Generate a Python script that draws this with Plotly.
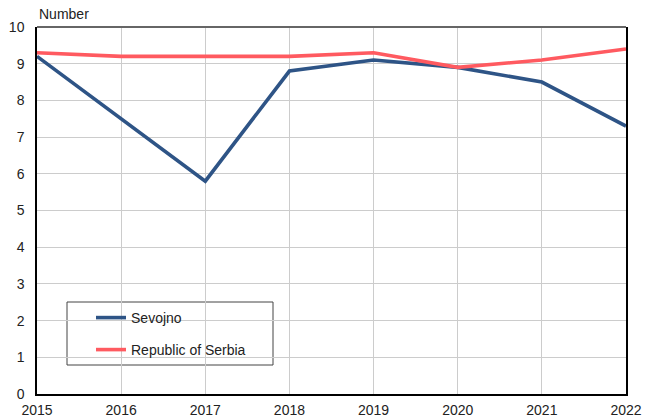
import plotly.graph_objects as go

years = [2015, 2016, 2017, 2018, 2019, 2020, 2021, 2022]
sevojno = [9.2, 7.5, 5.8, 8.8, 9.1, 8.9, 8.5, 7.3]
serbia = [9.3, 9.2, 9.2, 9.2, 9.3, 8.9, 9.1, 9.4]
y_ticks = list(range(0, 11))

FONT = "Arial, Liberation Sans, sans-serif"
TXT = "#222222"

fig = go.Figure()
fig.add_trace(go.Scatter(x=years, y=sevojno, mode="lines", name="Sevojno",
                         line=dict(color="#2E5486", width=3.6), legend="legend"))
fig.add_trace(go.Scatter(x=years, y=serbia, mode="lines", name="Republic of Serbia",
                         line=dict(color="#FF5A60", width=3.6), legend="legend2"))

legend_common = dict(xanchor="left", yanchor="top", bgcolor="rgba(0,0,0,0)",
                     borderwidth=0, font=dict(size=14, color=TXT), itemwidth=30)

fig.update_layout(
    width=647, height=417,
    margin=dict(l=37, r=21, t=27, b=23, autoexpand=False),
    paper_bgcolor="white", plot_bgcolor="white",
    font=dict(family=FONT, size=14, color=TXT),
    showlegend=True,
    legend=dict(x=0.0917, y=0.2507, **legend_common),
    legend2=dict(x=0.0917, y=0.1635, **legend_common),
    xaxis=dict(range=[2015, 2022], tickvals=years, showgrid=True, automargin=False,
               gridcolor="#cccccc", gridwidth=1, showline=True, linecolor="black",
               linewidth=1.5, ticks="", zeroline=False, ticklabelstandoff=2),
    yaxis=dict(range=[0, 10], tickvals=y_ticks, showgrid=True, automargin=False,
               gridcolor="#cccccc", gridwidth=1, showline=True, mirror=True,
               linecolor="black", linewidth=1.5, ticks="", zeroline=False,
               ticklabelstandoff=8),
)

# top frame edge and legend box
fig.add_shape(type="line", xref="paper", yref="paper", x0=0, x1=1, y0=1, y1=1,
              line=dict(color="#666666", width=2))
fig.add_shape(type="rect", xref="paper", yref="paper",
              x0=(67 - 37) / 589, x1=(273 - 37) / 589,
              y0=(394 - 365) / 367, y1=(394 - 302) / 367,
              line=dict(color="#444444", width=1), fillcolor="white", layer="below")

# chart heading, sitting at the very top edge of the page
fig.add_annotation(text="<b>Live births per 1,000 population, Sevojno and Republic of Serbia</b>",
                   xref="paper", yref="paper", x=(60 - 37) / 589, y=1,
                   xanchor="left", yanchor="bottom", yshift=25, showarrow=False,
                   font=dict(size=15, color="#111111"))

fig.add_annotation(text="Number", xref="paper", yref="paper", x=0, y=1,
                   xanchor="left", yanchor="bottom", yshift=3, showarrow=False,
                   font=dict(size=14, color=TXT))

fig.write_html("out.html")
